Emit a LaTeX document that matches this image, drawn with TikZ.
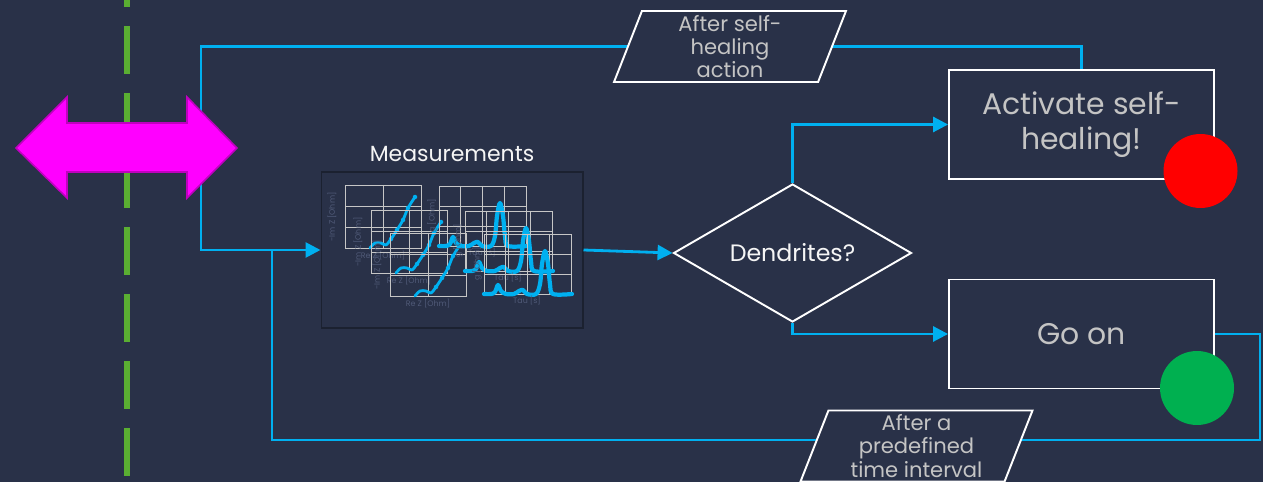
\documentclass[tikz,border=0pt]{standalone}
\usepackage{fontspec}
\setmainfont{Poppins}
\usepackage{tikz}
\usetikzlibrary{shapes.geometric,arrows.meta,positioning,calc}
\definecolor{bgnavy}{HTML}{293148}
\definecolor{flowblue}{HTML}{00B0F0}
\definecolor{txtgray}{HTML}{C4C4C4}
\definecolor{dashgreen}{HTML}{5AAE32}
\definecolor{pinkfill}{HTML}{FF00FF}
\definecolor{pinkedge}{HTML}{C000C0}
\definecolor{lampred}{HTML}{FF0000}
\definecolor{lampgreen}{HTML}{00B050}
\definecolor{faint}{HTML}{505A78}
\definecolor{imgedge}{HTML}{1B2130}

\begin{document}
\begin{tikzpicture}[x=0.02cm, y=-0.02cm, >={Triangle[length=0.3cm,width=0.3cm]}, semithick]
\tikzstyle{action}=[draw=white, line width=1.1pt, minimum width=5.3cm, minimum height=2.18cm, align=center, text=txtgray, font=\fontsize{17}{20}\selectfont]
\tikzstyle{decision}=[diamond, shape aspect=1.72, draw=white, line width=1.1pt, minimum width=4.76cm, minimum height=2.76cm, inner sep=0pt, text=white!92!gray, font=\fontsize{13.5}{16}\selectfont]
\tikzstyle{cond}=[trapezium, trapezium left angle=66, trapezium right angle=114, trapezium stretches body, draw=white, line width=1.1pt, fill=bgnavy, minimum width=4.64cm, minimum height=1.42cm, inner sep=0pt, align=center, text=txtgray, font=\fontsize{12}{13.2}\selectfont]
\tikzstyle{flow}=[draw=flowblue, line width=1.6pt]
\tikzstyle{lamp}=[circle, minimum size=1.48cm, inner sep=0pt]
\tikzstyle{chartgrid}=[draw=gray!45!white, line width=0.45pt]
\tikzstyle{trace}=[draw=flowblue, line width=1.6pt, line join=round, line cap=round]
\tikzstyle{axislbl}=[text=faint, font=\fontsize{4.5}{5}\selectfont, inner sep=0pt]

% background and frame
\fill[bgnavy] (0,0) rectangle (1263,482);
\useasboundingbox (0,0) rectangle (1263,482);
\clip (0,0) rectangle (1263,482);

% boundary line
\draw[dashgreen, line width=3.2pt, dash pattern=on 0.96cm off 0.38cm] (127,-41) -- (127,476);

% nodes
\node[action] (heal) at (1081.5,124.5) {Activate self-\\healing!};
\node[action] (goon) at (1081.5,334) {Go on};
\node[decision] (dend) at (792.5,253) {Dendrites?};
\node[draw=imgedge, line width=0.6pt, minimum width=5.24cm, minimum height=3.12cm, inner sep=0pt] (meas) at (452,250) {};
\node[above=2pt of meas, text=white!92!gray, font=\fontsize{12.5}{14}\selectfont] (measlbl) {Measurements};

% impedance plots
\foreach \ox/\oy in {345/185, 371/210, 390/233} {
\begin{scope}[shift={(\ox,\oy)}]
  \draw[chartgrid] (0,0) rectangle (76,63) (38,0) -- (38,63) (0,21) -- (76,21) (0,42) -- (76,42);
  \draw[trace] plot[smooth] coordinates {(25,63) (30,58) (36,58) (41,60) (46,54) (52,45) (58,35) (63,23) (70,12)};
  \foreach \p in {(46,54),(52,45),(58,35),(63,23),(70,12)} \fill[flowblue] \p circle[radius=0.045cm];
  \node[axislbl, rotate=90] at (-13,32) {-Im Z [Ohm]};
  \node[axislbl] at (38,71) {Re Z [Ohm]};
\end{scope}
}
% relaxation time plots
\foreach \ox/\oy in {439/186, 465/211, 484/234} {
\begin{scope}[shift={(\ox,\oy)}]
  \draw[chartgrid] (0,0) rectangle (87,60);
  \foreach \i in {1,2,3} \draw[chartgrid] (21.75*\i,0) -- (21.75*\i,60);
  \foreach \j in {1,2} \draw[chartgrid] (0,20*\j) -- (87,20*\j);
  \draw[trace, line width=2.4pt] plot[smooth, tension=0.55] coordinates {(0,60) (7,60) (11,58) (14,51) (17,57) (22,60) (30,60) (35,57) (39,56) (43,60) (52,60) (56,50) (58,30) (61,17) (64,30) (66,50) (69,60) (88,60)};
  \node[axislbl, rotate=90] at (-7,30) {g [Ohm]};
  \node[axislbl] at (43,67) {Tau [s]};
\end{scope}
}

% connectors
\coordinate (topL) at (201,46.5);
\coordinate (loopL) at (201,250);
\coordinate (botR) at (1260,440);
\coordinate (botL) at (272,440);
\coordinate (loopJ) at (272,250);
\draw[flow,->] (heal.north) |- (topL) -- (loopL) -- (meas.west);
\draw[flow] (goon.east) -| (botR) -- (botL) -- (loopJ);
\draw[flow,->] (meas.east) -- (dend.west);
\draw[flow,->] (dend.north) |- (heal.west);
\draw[flow,->] (dend.south) |- (goon.west);

\node[cond] (afterheal) at (730,46.5) {After self-\\healing\\action};
\node[cond] (afterwait) at (916.5,446) {After a\\predefined\\time interval};

% status lamps
\node[lamp, fill=lampred] (stop) at (1200.5,171) {};
\node[lamp, fill=lampgreen] (run) at (1197,388) {};

% exchange arrow
\filldraw[fill=pinkfill, draw=pinkedge, line width=0.9pt] (16,148) -- (67,97) -- (67,123) -- (187,123) -- (187,97) -- (237,148) -- (187,198) -- (187,172) -- (67,172) -- (67,198) -- cycle;
\end{tikzpicture}
\end{document}
